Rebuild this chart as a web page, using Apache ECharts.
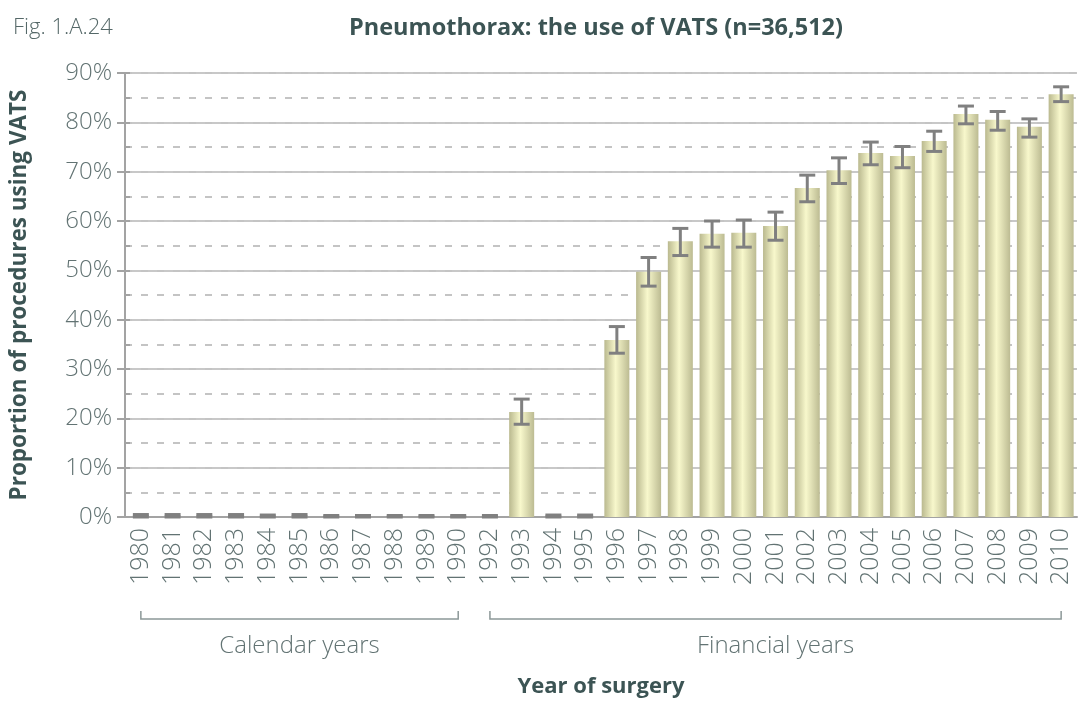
<!DOCTYPE html>
<html>
<head>
<meta charset="utf-8">
<script src="https://cdn.jsdelivr.net/npm/echarts@6/dist/echarts.min.js"></script>
<style>
	html, body { margin: 0; padding: 0; background: #fff; }
	#chart { width: 1081px; height: 702px; }
</style>
</head>
<body>
<div id="chart"></div>
<script>
// years on the x axis (no 1991)
var years = [ '1980', '1981', '1982', '1983', '1984', '1985', '1986', '1987',
	'1988', '1989', '1990', '1992', '1993', '1994', '1995', '1996', '1997',
	'1998', '1999', '2000', '2001', '2002', '2003', '2004', '2005', '2006',
	'2007', '2008', '2009', '2010' ];

// proportion of procedures using VATS (%)
var vats = [ 0, 0, 0, 0, 0, 0, 0, 0, 0, 0, 0, 0, 21.3, 0, 0, 35.9, 49.7,
	55.9, 57.4, 57.6, 59.0, 66.7, 70.3, 73.8, 73.2, 76.2, 81.7, 80.5, 79.1,
	85.7 ];

// confidence interval bounds (%)
var ciLow = [ 0, 0, 0, 0, 0, 0, 0, 0, 0, 0, 0, 0, 18.8, 0, 0, 33.2, 46.8,
	53.0, 54.7, 54.7, 56.1, 63.9, 67.6, 71.4, 70.8, 74.1, 79.7, 78.4, 77.0,
	84.2 ];
var ciHigh = [ 0.5, 0.5, 0.5, 0.5, 0.4, 0.5, 0.3, 0.3, 0.3, 0.3, 0.3, 0.3,
	23.9, 0.4, 0.4, 38.6, 52.6, 58.5, 60.0, 60.2, 61.8, 69.3, 72.8, 76.0,
	75.1, 78.2, 83.3, 82.2, 80.7, 87.2 ];

// bracket groups under the axis
var groups = [ {
	name : 'Calendar years',
	from : '1980',
	to : '1990'
}, {
	name : 'Financial years',
	from : '1992',
	to : '2010'
} ];

var font = '"Open Sans", sans-serif';
var labelColor = '#627373';
var darkColor = '#3c5454';
var axisGrey = '#a3a3a3';

var errData = years.map(function(y, i) {
	return [ i, ciLow[i], ciHigh[i] ];
});

var option = {
	animation : false,
	backgroundColor : '#fff',
	title : [ {
		text : 'Fig. 1.A.24',
		left : 8,
		top : 12,
		textStyle : {
			fontFamily : font,
			fontWeight : 300,
			fontSize : 22,
			color : '#556868'
		}
	}, {
		text : 'Pneumothorax: the use of VATS (n=36,512)',
		left : 591,
		top : 11,
		textAlign : 'center',
		textStyle : {
			fontFamily : font,
			fontWeight : 'bold',
			fontSize : 23.5,
			color : darkColor
		}
	} ],
	grid : {
		left : 125,
		right : 4,
		top : 73,
		bottom : 185,
		containLabel : false,
		outerBoundsMode : 'none'
	},
	xAxis : {
		type : 'category',
		data : years,
		name : 'Year of surgery',
		nameLocation : 'middle',
		nameGap : 159,
		nameTextStyle : {
			fontFamily : font,
			fontWeight : 'bold',
			fontSize : 22,
			color : darkColor
		},
		axisLine : {
			lineStyle : {
				color : axisGrey,
				width : 2
			}
		},
		axisTick : {
			length : 7,
			lineStyle : {
				color : axisGrey,
				width : 2
			}
		},
		axisLabel : {
			rotate : 90,
			interval : 0,
			margin : 11,
			fontFamily : font,
			fontWeight : 300,
			fontSize : 25,
			color : labelColor
		}
	},
	yAxis : [ {
		type : 'value',
		min : 0,
		max : 90,
		interval : 10,
		name : 'Proportion of procedures using VATS',
		nameLocation : 'middle',
		nameGap : 94,
		nameTextStyle : {
			fontFamily : font,
			fontWeight : 'bold',
			fontSize : 22.5,
			color : darkColor
		},
		axisLine : {
			show : true,
			lineStyle : {
				color : axisGrey,
				width : 2
			}
		},
		axisTick : {
			show : true,
			length : 8,
			lineStyle : {
				color : axisGrey,
				width : 2
			}
		},
		axisLabel : {
			formatter : '{value}%',
			margin : 13,
			fontFamily : font,
			fontWeight : 300,
			fontSize : 24,
			color : labelColor
		},
		splitLine : {
			lineStyle : {
				color : '#c8c8c8',
				width : 2
			}
		}
	}, {
		type : 'value',
		min : 0,
		max : 90,
		interval : 5,
		position : 'left',
		axisLine : {
			show : false
		},
		axisTick : {
			show : true,
			inside : true,
			length : 5,
			lineStyle : {
				color : axisGrey,
				width : 2
			}
		},
		axisLabel : {
			show : false
		},
		splitLine : {
			lineStyle : {
				color : '#c4c4c4',
				width : 2,
				type : [ 7, 9 ]
			}
		}
	} ],
	series : [ {
		name : 'VATS',
		type : 'bar',
		data : vats,
		barWidth : 25,
		z : 3,
		itemStyle : {
			color : new echarts.graphic.LinearGradient(0, 0, 1, 0, [ {
				offset : 0,
				color : '#bab98f'
			}, {
				offset : 0.45,
				color : '#f8f8cc'
			}, {
				offset : 1,
				color : '#bcbb92'
			} ])
		}
	}, {
		name : 'CI',
		type : 'custom',
		data : errData,
		z : 4,
		renderItem : function(params, api) {
			var top = api.coord([ api.value(0), api.value(2) ]);
			var bot = api.coord([ api.value(0), api.value(1) ]);
			var hw = 8;
			var style = {
				stroke : '#808080',
				lineWidth : 3
			};
			return {
				type : 'group',
				children : [ {
					type : 'line',
					shape : {
						x1 : top[0],
						y1 : top[1],
						x2 : bot[0],
						y2 : bot[1]
					},
					style : style
				}, {
					type : 'line',
					shape : {
						x1 : top[0] - hw,
						y1 : top[1],
						x2 : top[0] + hw,
						y2 : top[1]
					},
					style : style
				}, {
					type : 'line',
					shape : {
						x1 : bot[0] - hw,
						y1 : bot[1],
						x2 : bot[0] + hw,
						y2 : bot[1]
					},
					style : style
				} ]
			};
		}
	} ]
};

function renderBrackets(chart) {
	var elements = [];
	var y0 = chart.convertToPixel({
		yAxisIndex : 0
	}, 0);
	var lineY = y0 + 102;
	groups.forEach(function(g) {
		var x1 = chart.convertToPixel({
			xAxisIndex : 0
		}, g.from);
		var x2 = chart.convertToPixel({
			xAxisIndex : 0
		}, g.to);
		elements.push({
			type : 'polyline',
			shape : {
				points : [ [ x1, lineY - 8 ], [ x1, lineY ], [ x2, lineY ],
					[ x2, lineY - 8 ] ]
			},
			style : {
				stroke : '#8c9898',
				lineWidth : 1.5,
				fill : null
			}
		});
		elements.push({
			type : 'text',
			x : (x1 + x2) / 2,
			y : lineY + 27,
			style : {
				text : g.name,
				align : 'center',
				verticalAlign : 'middle',
				font : '300 24px ' + font,
				fill : labelColor
			}
		});
	});
	chart.setOption({
		graphic : elements
	});
}

var graph = echarts.init(document.getElementById('chart'));
graph.setOption(option);
renderBrackets(graph);
</script>
</body>
</html>
